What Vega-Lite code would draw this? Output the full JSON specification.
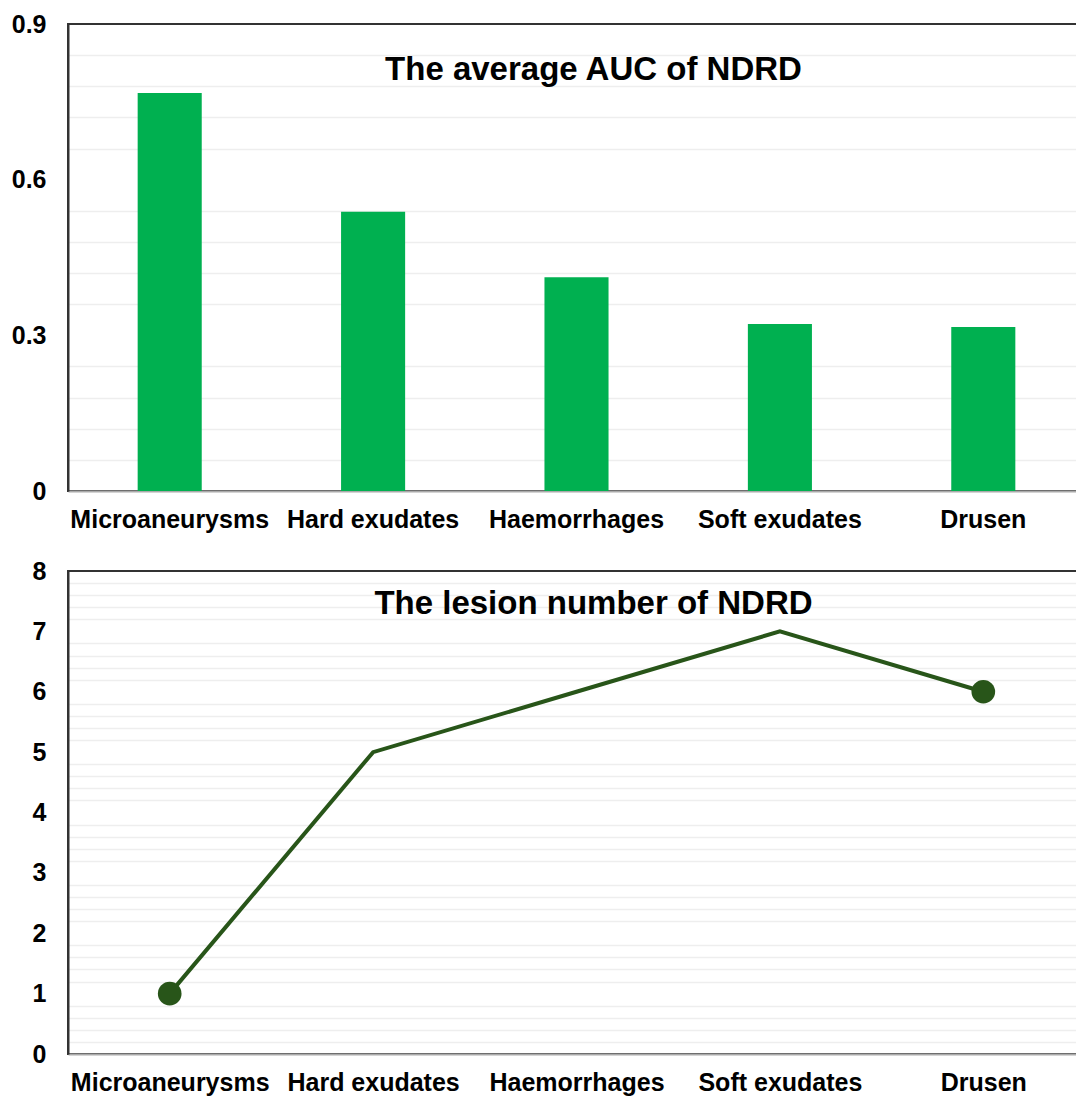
{
  "$schema": "https://vega.github.io/schema/vega-lite/v6.json",
  "padding": {"left": 10, "top": 11, "right": 0, "bottom": 0},
  "background": "white",
  "config": {
    "font": "Liberation Sans",
    "view": {"stroke": "#333333", "strokeWidth": 2},
    "axis": {"labelFont": "Liberation Sans", "labelFontSize": 25, "labelFontWeight": "bold", "labelColor": "#000000", "ticks": false, "title": null, "labelOverlap": false, "labelFlush": false, "labelLimit": 0},
    "concat": {"spacing": 25}
  },
  "datasets": {
    "auc": [
      {"lesion": "Microaneurysms", "auc": 0.767},
      {"lesion": "Hard exudates", "auc": 0.538},
      {"lesion": "Haemorrhages", "auc": 0.412},
      {"lesion": "Soft exudates", "auc": 0.322},
      {"lesion": "Drusen", "auc": 0.316}
    ],
    "count": [
      {"lesion": "Microaneurysms", "n": 1},
      {"lesion": "Hard exudates", "n": 5},
      {"lesion": "Haemorrhages", "n": 6},
      {"lesion": "Soft exudates", "n": 7},
      {"lesion": "Drusen", "n": 6}
    ]
  },
  "vconcat": [
    {
      "width": 1017,
      "height": 467,
      "data": {"name": "auc"},
      "title": {"text": "The average AUC of NDRD", "anchor": "middle", "frame": "group", "orient": "top", "offset": 0, "baseline": "alphabetic", "dy": 101, "dx": 17, "fontSize": 33, "fontWeight": "bold", "font": "Liberation Sans", "color": "#000000"},
      "mark": {"type": "bar", "color": "#00b050"},
      "encoding": {
        "x": {"field": "lesion", "type": "nominal", "sort": null, "scale": {"paddingInner": 0.685, "paddingOuter": 0.3425}, "axis": {"labelAngle": 0, "labelPadding": 16, "domainColor": "#aaaaaa", "domainWidth": 2, "grid": false}},
        "y": {"field": "auc", "type": "quantitative", "scale": {"domain": [0, 0.9], "nice": false, "zero": true},
          "axis": {
            "values": [0, 0.06, 0.12, 0.18, 0.24, 0.3, 0.36, 0.42, 0.48, 0.54, 0.6, 0.66, 0.72, 0.78, 0.84, 0.9],
            "labelExpr": "abs(datum.value/0.3 - round(datum.value/0.3)) < 0.001 ? format(datum.value, '.1~f') : ''",
            "labelPadding": 22,
            "domainColor": "#333333", "domainWidth": 2,
            "grid": true, "gridColor": "#eeeeee", "gridWidth": 1.5,
            "gridOpacity": {"condition": {"test": "abs(datum.value/0.3 - round(datum.value/0.3)) < 0.001", "value": 0}, "value": 1}
          }
        }
      }
    },
    {
      "width": 1017,
      "height": 483,
      "data": {"name": "count"},
      "title": {"text": "The lesion number of NDRD", "anchor": "middle", "frame": "group", "orient": "top", "offset": 0, "baseline": "alphabetic", "dy": 88, "dx": 17, "fontSize": 33, "fontWeight": "bold", "font": "Liberation Sans", "color": "#000000"},
      "encoding": {
        "x": {"field": "lesion", "type": "nominal", "sort": null, "scale": {"type": "point", "padding": 0.5}, "axis": {"labelAngle": 0, "labelPadding": 16, "domainColor": "#aaaaaa", "domainWidth": 2, "grid": false}},
        "y": {"field": "n", "type": "quantitative", "scale": {"domain": [0, 8], "nice": false},
          "axis": {
            "values": [0, 0.2, 0.4, 0.6, 0.8, 1, 1.2, 1.4, 1.6, 1.8, 2, 2.2, 2.4, 2.6, 2.8, 3, 3.2, 3.4, 3.6, 3.8, 4, 4.2, 4.4, 4.6, 4.8, 5, 5.2, 5.4, 5.6, 5.8, 6, 6.2, 6.4, 6.6, 6.8, 7, 7.2, 7.4, 7.6, 7.8, 8],
            "labelExpr": "abs(datum.value - round(datum.value)) < 0.001 ? format(datum.value, 'd') : ''",
            "labelPadding": 22,
            "domainColor": "#333333", "domainWidth": 2,
            "grid": true, "gridColor": "#eeeeee", "gridWidth": 1.5,
            "gridOpacity": {"condition": {"test": "abs(datum.value - round(datum.value)) < 0.001", "value": 0}, "value": 1}
          }
        }
      },
      "layer": [
        {"mark": {"type": "line", "color": "#285519", "strokeWidth": 4}},
        {
          "transform": [{"filter": "datum.lesion === 'Microaneurysms' || datum.lesion === 'Drusen'"}],
          "mark": {"type": "point", "filled": true, "color": "#285519", "size": 560, "opacity": 1}
        }
      ]
    }
  ]
}
